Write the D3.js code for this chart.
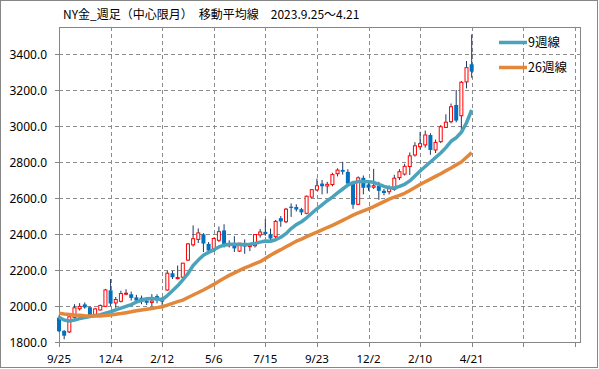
<!DOCTYPE html>
<html>
<head>
<meta charset="utf-8">
<script src="https://cdn.jsdelivr.net/npm/d3@7"></script>
<style>
  body { margin: 0; background: #fff; }
  text { font-family: "Noto Sans", "Noto Sans CJK JP", sans-serif; fill: #000; }
  .jp { font-family: "Noto Sans CJK JP", sans-serif; }
</style>
</head>
<body>
<div id="chart"></div>
<script>
// Weekly candles, 2023-09-25 .. 2025-04-21 (one entry per week on the chart)
const opens  = [1935,1862,1856,1937,1985,2009,1993,1950,1978,1998,2087,2017,2026,2066,2065,2048,2046,2030,2020,2055,
                2045,2089,2182,2152,2160,2255,2340,2370,2398,2345,2310,2365,2420,2335,2350,2305,2350,2330,2335,2395,
                2412,2398,2385,2488,2468,2552,2550,2538,2515,2605,2645,2680,2667,2675,2735,2756,2745,2690,2565,2712,
                2675,2660,2668,2640,2635,2648,2713,2733,2775,2839,2885,2895,2950,2867,2913,2992,3024,3117,3057,3245,
                3343];
const highs  = [1947,1866,1945,2010,2016,2020,1997,1990,2008,2095,2150,2050,2085,2093,2080,2062,2058,2040,2066,2065,
                2050,2195,2195,2225,2240,2350,2448,2431,2405,2355,2380,2442,2454,2365,2388,2350,2370,2345,2400,2428,
                2483,2430,2478,2500,2545,2570,2565,2545,2613,2650,2708,2700,2690,2740,2765,2801,2760,2695,2720,2725,
                2690,2762,2690,2650,2670,2729,2760,2790,2853,2910,2968,2975,2960,2925,3005,3065,3125,3200,3250,3361,
                3509];
const lows   = [1855,1815,1850,1930,1975,1985,1940,1940,1975,1995,2000,1990,2020,2060,2030,2020,2010,2005,2000,2015,
                1995,2085,2150,2148,2155,2250,2330,2350,2300,2290,2300,2355,2325,2325,2300,2300,2290,2305,2325,2380,
                2390,2353,2375,2440,2460,2495,2525,2505,2510,2600,2640,2620,2625,2665,2720,2730,2670,2540,2560,2620,
                2640,2650,2590,2615,2620,2640,2700,2725,2728,2830,2870,2880,2840,2850,2905,2990,3015,3020,2965,3209,
                3268];
const closes = [1860,1835,1940,1990,1998,1992,1946,1984,2003,2089,2014,2036,2069,2071,2045,2030,2024,2018,2028,2032,
                2024,2182,2160,2158,2238,2345,2374,2406,2347,2308,2375,2413,2334,2345,2320,2349,2330,2339,2397,2411,
                2400,2375,2470,2470,2538,2545,2536,2520,2610,2646,2668,2665,2676,2730,2755,2746,2680,2563,2712,2657,
                2657,2668,2640,2628,2657,2710,2746,2776,2834,2890,2902,2950,2867,2909,2996,3021,3107,3030,3243,3324,
                3302];

// Moving averages as drawn
const ma9  = [1937,1922,1917,1922,1930,1936,1941,1947,1952,1960,1968,1978,1988,1998,2008,2022,2032,2040,2041,2039,
              2036,2058,2085,2112,2145,2180,2225,2255,2282,2298,2312,2328,2338,2343,2343,2342,2341,2343,2348,2355,
              2361,2360,2368,2382,2402,2430,2452,2468,2490,2515,2540,2562,2585,2605,2628,2650,2672,2685,2691,2691,
              2690,2687,2676,2664,2657,2655,2665,2676,2695,2722,2750,2775,2800,2825,2850,2880,2915,2935,2965,3018,
              3089];
const ma26 = [1960,1956,1953,1950,1948,1946,1945,1944,1945,1947,1950,1954,1958,1963,1968,1974,1978,1982,1986,1991,
              1996,2005,2015,2024,2033,2047,2061,2075,2089,2104,2120,2137,2154,2170,2184,2198,2212,2223,2235,2246,
              2264,2282,2298,2313,2329,2344,2360,2372,2385,2398,2410,2423,2436,2448,2462,2476,2490,2505,2517,2529,
              2540,2552,2566,2580,2594,2605,2615,2626,2642,2658,2675,2690,2705,2720,2735,2751,2767,2784,2800,2826,
              2852];

const tickLabels = ["9/25","12/4","2/12","5/6","7/15","9/23","12/2","2/10","4/21"];
const seriesNames = ["9週線","26週線"];
const title = "NY金_週足（中心限月）　移動平均線　2023.9.25～4.21";

// Layout
const W = 599, H = 369;
const plot = { left: 59, top: 27, right: 580, bottom: 342 };

const svg = d3.select("#chart").append("svg")
  .attr("width", W).attr("height", H);

// outer frame
svg.append("rect")
  .attr("x", 0.5).attr("y", 0.5)
  .attr("width", W - 2).attr("height", H - 2)
  .attr("fill", "#fff").attr("stroke", "#868686");

const x = d3.scaleLinear().domain([0, 101]).range([plot.left, plot.right]);
const y = d3.scaleLinear().domain([1800, 3550]).range([plot.bottom, plot.top]);

const yTicks = d3.range(1800, 3401, 200);
const xTicks = d3.range(0, 101, 10);

// Grid
const grid = svg.append("g")
  .attr("stroke", "#8c8c8c").attr("stroke-dasharray", "4,3").attr("shape-rendering", "crispEdges");
grid.selectAll("line.h")
  .data(yTicks.slice(1))
  .enter().append("line")
    .attr("x1", plot.left).attr("x2", plot.right)
    .attr("y1", d => Math.round(y(d)) + 0.5).attr("y2", d => Math.round(y(d)) + 0.5);
grid.selectAll("line.v")
  .data(xTicks.slice(1))
  .enter().append("line")
    .attr("y1", plot.top).attr("y2", plot.bottom)
    .attr("x1", d => Math.round(x(d)) + 0.5).attr("x2", d => Math.round(x(d)) + 0.5);

// Plot border
svg.append("rect")
  .attr("x", plot.left + 0.5).attr("y", plot.top + 0.5)
  .attr("width", plot.right - plot.left).attr("height", plot.bottom - plot.top)
  .attr("fill", "none").attr("stroke", "#868686");

// Y axis ticks + labels
const yAxis = svg.append("g");
yAxis.selectAll("line")
  .data(yTicks)
  .enter().append("line")
    .attr("x1", plot.left - 4).attr("x2", plot.left)
    .attr("y1", d => Math.round(y(d)) + 0.5).attr("y2", d => Math.round(y(d)) + 0.5)
    .attr("stroke", "#868686");
yAxis.selectAll("text")
  .data(yTicks)
  .enter().append("text")
    .attr("x", 47).attr("y", d => y(d) + 4.5)
    .attr("text-anchor", "end")
    .style("font-size", "12px")
    .text(d => d3.format(".1f")(d));

// X axis ticks + labels
const xAxis = svg.append("g");
xAxis.selectAll("line")
  .data(xTicks)
  .enter().append("line")
    .attr("x1", d => Math.round(x(d)) + 0.5).attr("x2", d => Math.round(x(d)) + 0.5)
    .attr("y1", plot.bottom).attr("y2", plot.bottom + 5)
    .attr("stroke", "#868686");
xAxis.selectAll("text")
  .data(tickLabels)
  .enter().append("text")
    .attr("x", (d, i) => x(i * 10))
    .attr("y", 363)
    .attr("text-anchor", "middle")
    .style("font-size", "11.5px")
    .text(d => d);

// Candles
const idx = d3.range(closes.length);
const candles = svg.append("g");
candles.selectAll("line.wick")
  .data(idx)
  .enter().append("line")
    .attr("class", "wick")
    .attr("x1", i => x(i)).attr("x2", i => x(i))
    .attr("y1", i => y(highs[i])).attr("y2", i => y(lows[i]))
    .attr("stroke", "#1f3864").attr("stroke-width", 1);

candles.selectAll("rect.body")
  .data(idx)
  .enter().append("rect")
    .attr("class", "body")
    .attr("x", i => closes[i] >= opens[i] ? x(i) - 1.5 : x(i) - 2)
    .attr("width", i => closes[i] >= opens[i] ? 3 : 4)
    .attr("y", i => y(Math.max(opens[i], closes[i])))
    .attr("height", i => Math.max(1, Math.abs(y(opens[i]) - y(closes[i]))))
    .attr("fill", i => closes[i] >= opens[i] ? "#fff" : "#0070c0")
    .attr("stroke", i => closes[i] >= opens[i] ? "#ff0000" : "none")
    .attr("stroke-width", 1);

// Moving average lines
const colors = ["#4aa3ba", "#e3873a"];
const line = d3.line().x((d, i) => x(i)).y(d => y(d));
[ma9, ma26].forEach((s, k) => {
  svg.append("path")
    .datum(s)
    .attr("d", line)
    .attr("fill", "none")
    .attr("stroke", colors[k])
    .attr("stroke-width", 3.5)
    .attr("stroke-linejoin", "round");
});

// Legend
const legend = svg.append("g");
seriesNames.forEach((name, k) => {
  const ly = 42.5 + k * 25;
  legend.append("line")
    .attr("x1", 499).attr("x2", 527)
    .attr("y1", ly).attr("y2", ly)
    .attr("stroke", colors[k]).attr("stroke-width", 3.5);
  legend.append("text")
    .attr("class", "jp")
    .attr("x", 528).attr("y", ly + 4.5)
    .style("font-size", "12.5px")
    .text(name);
});

// Title
svg.append("text")
  .attr("class", "jp")
  .attr("x", 63).attr("y", 19)
  .style("font-size", "12px")
  .text(title);
</script>
</body>
</html>
